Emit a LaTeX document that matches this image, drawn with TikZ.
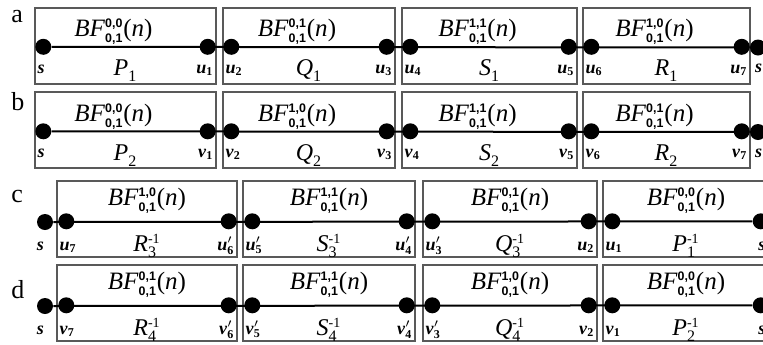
\documentclass[tikz,border=0pt]{standalone}
\usepackage{fontspec}
\setmainfont{Liberation Serif}
\setsansfont{Liberation Sans}
\usepackage{amsmath}
\usetikzlibrary{fit, positioning}
\newcommand{\supfont}{\fontsize{6.2}{7}\selectfont\sffamily\bfseries}
\newcommand{\bfn}[1]{\textit{BF}$^{\text{\supfont #1}}_{\text{\supfont 0,1}}$(\textit{n})}
\newcommand{\vlab}[2]{\textbf{\textit{#1}}$_{\text{\fontsize{6}{7}\selectfont\bfseries #2}}$}
\newcommand{\vlabp}[2]{\textbf{\textit{#1}}$^{\prime}_{\text{\fontsize{6}{7}\selectfont\bfseries #2}}$}
\newcommand{\plab}[3]{\textit{#1}$^{\text{\fontsize{7}{8}\selectfont #3}}_{\text{\fontsize{8}{9}\selectfont #2}}$}

\begin{document}
\begin{tikzpicture}[x=0.5pt, y=-0.5pt,
  box/.style={draw=black!65, line width=0.7pt, inner sep=0pt},
  dot/.style={circle, fill=black, inner sep=0pt, minimum size=8pt},
  link/.style={line width=1pt},
  toplab/.style={anchor=base, inner sep=0pt, font=\fontsize{12.5}{14}\selectfont},
  midlab/.style={anchor=base, inner sep=0pt, font=\fontsize{12}{14}\selectfont},
  cornlab/.style={inner sep=0pt, font=\fontsize{9}{10}\selectfont},
  rowlab/.style={anchor=base west, inner sep=0pt, font=\fontsize{13}{15}\selectfont}]
\useasboundingbox (0,0) rectangle (763,344);

% row a
\node[rowlab] (ra) at (11,22) {a};
\foreach \xl/\xr/\cfg/\pth/\lft/\rgt [count=\i] in {
    35/216/{0,0}/{\plab{P}{1}{}}/{\vlab{s}{}}/{\vlab{u}{1}},
    223/395/{0,1}/{\plab{Q}{1}{}}/{\vlab{u}{2}}/{\vlab{u}{3}},
    402/577/{1,1}/{\plab{S}{1}{}}/{\vlab{u}{4}}/{\vlab{u}{5}},
    583/750/{1,0}/{\plab{R}{1}{}}/{\vlab{u}{6}}/{\vlab{u}{7}}} {
  \node[box, fit={(\xl,8) (\xr,84)}] (a\i) {};
  \node[toplab] (ta\i) at ([shift={(-12,29)}]a\i.north) {\bfn{\cfg}};
  \node[midlab] (ma\i) at ([shift={(0,-9)}]a\i.south) {\pth};
  \node[dot] (al\i) at ([shift={(9,39.5)}]a\i.north west) {};
  \node[dot] (ar\i) at ([shift={(-9,39.5)}]a\i.north east) {};
  \node[cornlab, anchor=base west] (sa\i) at ([shift={(3,-11)}]a\i.south west) {\lft};
  \node[cornlab, anchor=base east] (ea\i) at ([shift={(-3,-11)}]a\i.south east) {\rgt};
}
\node[dot] (as) at (758,47.5) {};
\node[cornlab, anchor=base] (sas) at ([shift={(1,24.5)}]as.center) {\vlab{s}{}};
\draw[link] (al1) -- (as);

% row b
\node[rowlab] (rb) at (11,110) {b};
\foreach \xl/\xr/\cfg/\pth/\lft/\rgt [count=\i] in {
    35/216/{0,0}/{\plab{P}{2}{}}/{\vlab{s}{}}/{\vlab{v}{1}},
    223/395/{1,0}/{\plab{Q}{2}{}}/{\vlab{v}{2}}/{\vlab{v}{3}},
    402/577/{1,1}/{\plab{S}{2}{}}/{\vlab{v}{4}}/{\vlab{v}{5}},
    583/750/{0,1}/{\plab{R}{2}{}}/{\vlab{v}{6}}/{\vlab{v}{7}}} {
  \node[box, fit={(\xl,92) (\xr,168)}] (b\i) {};
  \node[toplab] (tb\i) at ([shift={(-12,30)}]b\i.north) {\bfn{\cfg}};
  \node[midlab] (mb\i) at ([shift={(0,-8)}]b\i.south) {\pth};
  \node[dot] (bl\i) at ([shift={(9,40)}]b\i.north west) {};
  \node[dot] (br\i) at ([shift={(-9,40)}]b\i.north east) {};
  \node[cornlab, anchor=base west] (sb\i) at ([shift={(3,-11)}]b\i.south west) {\lft};
  \node[cornlab, anchor=base east] (eb\i) at ([shift={(-3,-11)}]b\i.south east) {\rgt};
}
\node[dot] (bs) at (758,132) {};
\node[cornlab, anchor=base] (sbs) at ([shift={(1,25)}]bs.center) {\vlab{s}{}};
\draw[link] (bl1) -- (bs);

% row c
\node[rowlab] (rc) at (11,202) {c};
\foreach \xl/\xr/\cfg/\pth/\lft/\rgt [count=\i] in {
    57/237/{1,0}/{\plab{R}{3}{-1}}/{\vlab{u}{7}}/{\vlabp{u}{6}},
    243/415/{1,1}/{\plab{S}{3}{-1}}/{\vlabp{u}{5}}/{\vlabp{u}{4}},
    423/597/{0,1}/{\plab{Q}{3}{-1}}/{\vlabp{u}{3}}/{\vlab{u}{2}},
    603/769/{0,0}/{\plab{P}{1}{-1}}/{\vlab{u}{1}}/{\vlab{s}{}}} {
  \node[box, fit={(\xl,181) (\xr,257)}] (c\i) {};
  \node[toplab] (tc\i) at ([shift={(0,25)}]c\i.north) {\bfn{\cfg}};
  \node[midlab] (mc\i) at ([shift={(0,-6)}]c\i.south) {\pth};
  \node[dot] (cl\i) at ([shift={(10,41)}]c\i.north west) {};
  \node[dot] (cr\i) at ([shift={(-9,41)}]c\i.north east) {};
  \node[cornlab, anchor=base west] (sc\i) at ([shift={(3,-7)}]c\i.south west) {\lft};
  \node[cornlab, anchor=base east] (ec\i) at ([shift={(-3,-7)}]c\i.south east) {\rgt};
}
\node[dot] (cs) at (45,222) {};
\node[cornlab, anchor=base] (scs) at ([shift={(-4,28)}]cs.center) {\vlab{s}{}};
\draw[link] (cs) -- (cr4);

% row d
\node[rowlab] (rd) at (11,298) {d};
\foreach \xl/\xr/\cfg/\pth/\lft/\rgt [count=\i] in {
    57/237/{0,1}/{\plab{R}{4}{-1}}/{\vlab{v}{7}}/{\vlabp{v}{6}},
    243/415/{1,1}/{\plab{S}{4}{-1}}/{\vlabp{v}{5}}/{\vlabp{v}{4}},
    423/597/{1,0}/{\plab{Q}{4}{-1}}/{\vlabp{v}{3}}/{\vlab{v}{2}},
    603/769/{0,0}/{\plab{P}{2}{-1}}/{\vlab{v}{1}}/{\vlab{s}{}}} {
  \node[box, fit={(\xl,265) (\xr,341)}] (d\i) {};
  \node[toplab] (td\i) at ([shift={(0,25)}]d\i.north) {\bfn{\cfg}};
  \node[midlab] (md\i) at ([shift={(0,-6)}]d\i.south) {\pth};
  \node[dot] (dl\i) at ([shift={(10,41)}]d\i.north west) {};
  \node[dot] (dr\i) at ([shift={(-9,41)}]d\i.north east) {};
  \node[cornlab, anchor=base west] (sd\i) at ([shift={(3,-7)}]d\i.south west) {\lft};
  \node[cornlab, anchor=base east] (ed\i) at ([shift={(-3,-7)}]d\i.south east) {\rgt};
}
\node[dot] (ds) at (45,306) {};
\node[cornlab, anchor=base] (sds) at ([shift={(-4,28)}]ds.center) {\vlab{s}{}};
\draw[link] (ds) -- (dr4);
\end{tikzpicture}
\end{document}
